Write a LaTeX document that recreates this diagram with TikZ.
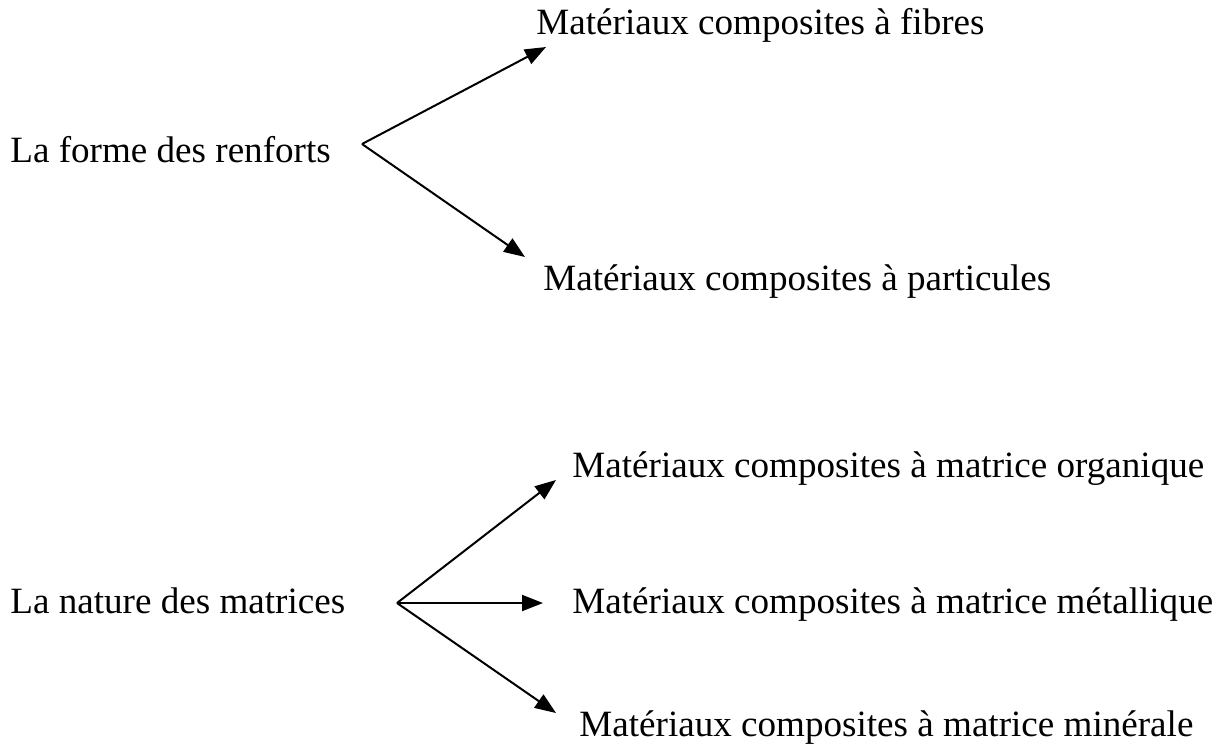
\documentclass[tikz,border=0pt]{standalone}
\usepackage{fontspec}
\setmainfont{Liberation Serif}
\usetikzlibrary{arrows.meta}
\begin{document}
\begin{tikzpicture}[x=0.5pt,y=-0.5pt,
  lbl/.style={anchor=base west,inner sep=0pt,font=\fontsize{18.55}{22}\selectfont},
  arr/.style={line width=1pt,-{Triangle[length=10.5pt,width=8pt]}}]
\useasboundingbox (0,0) rectangle (1229,751);
\node[lbl] (forme) at (10,162) {La forme des renforts};
\node[lbl] (fib) at (536,34) {Matériaux composites à fibres};
\node[lbl] (par) at (543,290) {Matériaux composites à particules};
\node[lbl] (nat) at (10,613) {La nature des matrices};
\node[lbl] (org) at (572,477) {Matériaux composites à matrice organique};
\node[lbl] (met) at (572,613) {Matériaux composites à matrice métallique};
\node[lbl] (min) at (579,736) {Matériaux composites à matrice minérale};
\coordinate (b1) at (362,144);
\coordinate (t1) at (546,47);
\coordinate (t2) at (525,257);
\coordinate (b2) at (397,603);
\coordinate (t3) at (556,480);
\coordinate (t4) at (543,603);
\coordinate (t5) at (556,713);
\draw[arr] (b1) -- (t1);
\draw[arr] (b1) -- (t2);
\draw[arr] (b2) -- (t3);
\draw[arr] (b2) -- (t4);
\draw[arr] (b2) -- (t5);
\end{tikzpicture}
\end{document}
